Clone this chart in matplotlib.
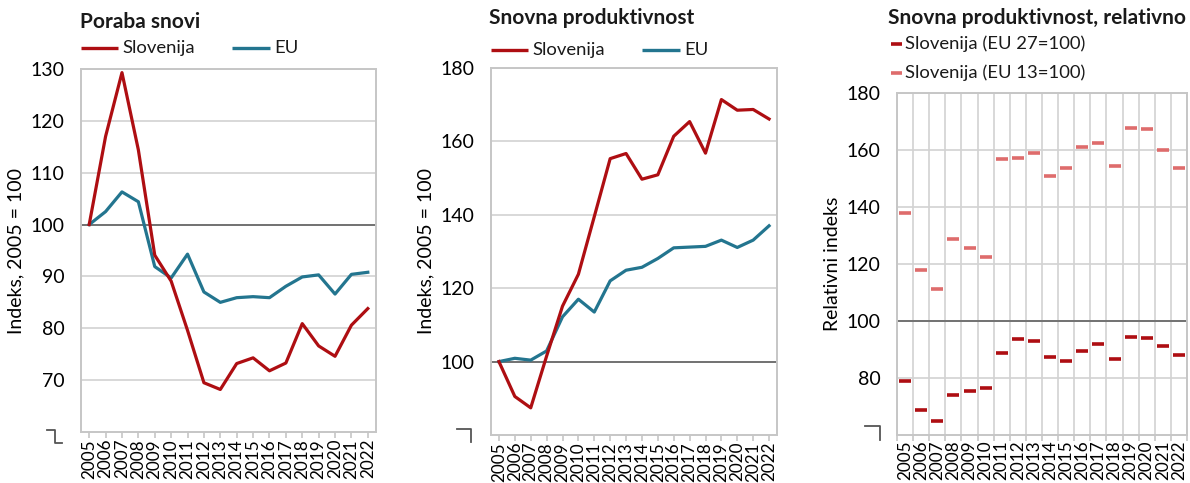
import matplotlib
matplotlib.use("Agg")
import matplotlib.pyplot as plt
from matplotlib.lines import Line2D

# ---- data -------------------------------------------------------------
years = ["2005", "2006", "2007", "2008", "2009", "2010", "2011", "2012", "2013",
         "2014", "2015", "2016", "2017", "2018", "2019", "2020", "2021", "2022"]

# Poraba snovi (indeks, 2005 = 100)
poraba_si = [100.0, 117.0, 129.3, 114.4, 94.1, 89.1, 79.6, 69.5, 68.2,
             73.2, 74.3, 71.8, 73.3, 80.9, 76.6, 74.6, 80.6, 83.8]
poraba_eu = [100.0, 102.5, 106.3, 104.4, 91.9, 89.7, 94.3, 87.0, 85.0,
             85.9, 86.1, 85.9, 88.1, 89.9, 90.3, 86.6, 90.4, 90.8]

# Snovna produktivnost (indeks, 2005 = 100)
prod_si = [100.0, 90.5, 87.4, 101.5, 115.1, 123.8, 139.5, 155.3, 156.7,
           149.7, 150.9, 161.4, 165.4, 156.8, 171.4, 168.5, 168.7, 166.1]
prod_eu = [100.0, 100.9, 100.4, 102.9, 112.2, 117.0, 113.5, 122.0, 124.9,
           125.7, 128.1, 131.0, 131.2, 131.4, 133.1, 131.1, 133.1, 137.0]

# Snovna produktivnost, relativno
rel_eu27 = [78.8, 68.7, 64.9, 74.2, 75.3, 76.5, 88.8, 93.6, 93.1,
            87.5, 85.9, 89.6, 91.8, 86.8, 94.3, 93.9, 91.3, 88.1]
rel_eu13 = [137.8, 118.0, 111.3, 128.9, 125.7, 122.3, 156.9, 157.3, 158.9,
            151.0, 153.8, 161.2, 162.5, 154.5, 167.6, 167.5, 159.9, 153.8]

# ---- styling ----------------------------------------------------------
RED = "#AE0E12"
TEAL = "#23758F"
LIGHT_RED = "#DE6C6C"
GRID = "#D2D2D2"
FRAME = "#C6C6C6"
REF = "#6A6A6A"
TXT = "#1A1A1A"

plt.rcParams['font.family'] = ['Lato', 'DejaVu Sans']
plt.rcParams['text.color'] = TXT

W, H = 1190, 483
fig = plt.figure(figsize=(W / 100, H / 100), dpi=100)


def px_box(left, top, right, bottom):
    return [left / W, 1 - bottom / H, (right - left) / W, (bottom - top) / H]


def fx(x):
    return x / W


def fy(y):
    return 1 - y / H


def style_axes(ax, ylim, yticks, ylabel, vgrid=False):
    x = list(range(len(years)))
    ax.set_xlim(-0.5, len(years) - 0.5)
    ax.set_ylim(*ylim)
    ax.set_yticks(yticks)
    ax.set_yticklabels([str(v) for v in yticks])
    ax.set_xticks(x)
    ax.set_xticklabels(years, rotation=90, fontsize=12.3)
    ax.tick_params(axis='y', length=0, pad=12, labelsize=14)
    if vgrid:
        ax.set_xticks([i - 0.5 for i in range(len(years) + 1)], minor=True)
        ax.tick_params(axis='x', which='major', length=0, pad=4)
        ax.tick_params(axis='x', which='minor', length=4, color=FRAME, width=1.2)
        ax.xaxis.grid(True, which='minor', color=GRID, lw=1.2)
    else:
        ax.tick_params(axis='x', length=4, color=FRAME, width=1.2, pad=1)
    ax.yaxis.grid(True, color=GRID, lw=1.2)
    ax.set_axisbelow(True)
    ax.axhline(100, color=REF, lw=1.3, zorder=1.5)
    for s in ax.spines.values():
        s.set_color(FRAME)
        s.set_linewidth(1.4)
    ax.set_ylabel(ylabel, fontsize=14, labelpad=4)


def break_mark(x0, ytop, x1, ybot, x2):
    fig.add_artist(Line2D([fx(x0), fx(x1), fx(x1), fx(x2)],
                          [fy(ytop), fy(ytop), fy(ybot), fy(ybot)],
                          transform=fig.transFigure, color="#555555", lw=1.3))


def legend_line(x0, x1, y, color, label, tx):
    fig.add_artist(Line2D([fx(x0), fx(x1)], [fy(y), fy(y)],
                          transform=fig.transFigure, color=color, lw=2.4,
                          solid_capstyle='butt'))
    fig.text(fx(tx), fy(y), label, va='center', ha='left', fontsize=13.3)


x = list(range(len(years)))

# ---- panel 1: Poraba snovi -------------------------------------------
ax1 = fig.add_axes(px_box(81, 69, 376, 432))
ax1.plot(x, poraba_si, color=RED, lw=2.3, zorder=3)
ax1.plot(x, poraba_eu, color=TEAL, lw=2.3, zorder=2.5)
style_axes(ax1, (60, 130), [70, 80, 90, 100, 110, 120, 130], "Indeks, 2005 = 100")
fig.text(fx(80), fy(22), "Poraba snovi", fontsize=15, fontweight='bold',
         va='center', ha='left')
legend_line(81, 118, 48, RED, "Slovenija", 122)
legend_line(232, 270, 48, TEAL, "EU", 274)
break_mark(47, 430, 55, 443, 62)

# ---- panel 2: Snovna produktivnost -----------------------------------
ax2 = fig.add_axes(px_box(491, 68, 777, 435))
ax2.plot(x, prod_si, color=RED, lw=2.3, zorder=3)
ax2.plot(x, prod_eu, color=TEAL, lw=2.3, zorder=2.5)
style_axes(ax2, (80, 180), [100, 120, 140, 160, 180], "Indeks, 2005 = 100")
fig.text(fx(489), fy(18), "Snovna produktivnost", fontsize=15, fontweight='bold',
         va='center', ha='left')
legend_line(491, 528, 50, RED, "Slovenija", 532)
legend_line(642, 680, 50, TEAL, "EU", 684)
break_mark(457, 429, 471, 442, 471)

# ---- panel 3: Snovna produktivnost, relativno ------------------------
ax3 = fig.add_axes(px_box(897, 93, 1187, 435))
ax3.plot(x, rel_eu27, linestyle='none', marker='_', markersize=9,
         markeredgewidth=2.6, color=RED, zorder=3)
ax3.plot(x, rel_eu13, linestyle='none', marker='_', markersize=9,
         markeredgewidth=2.6, color=LIGHT_RED, zorder=3)
style_axes(ax3, (60, 180), [80, 100, 120, 140, 160, 180], "Relativni indeks",
           vgrid=True)
fig.text(fx(888), fy(18), "Snovna produktivnost, relativno", fontsize=15,
         fontweight='bold', va='center', ha='left')
for yy, col, lab in [(44, RED, "Slovenija (EU 27=100)"),
                     (73, LIGHT_RED, "Slovenija (EU 13=100)")]:
    fig.add_artist(Line2D([fx(891), fx(902)], [fy(yy), fy(yy)],
                          transform=fig.transFigure, color=col, lw=2.6,
                          solid_capstyle='butt'))
    fig.text(fx(905), fy(yy), lab, va='center', ha='left', fontsize=13.3)
break_mark(865, 426, 880, 440, 880)

fig.savefig("out.png", dpi=100)
